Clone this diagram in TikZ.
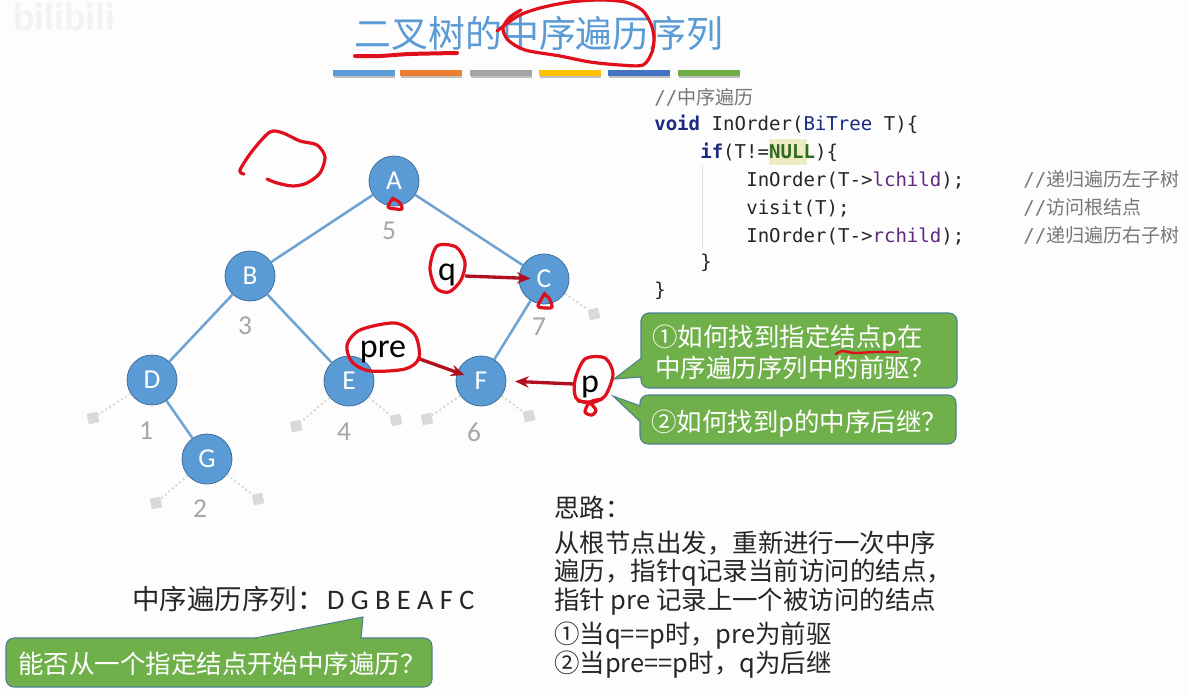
\documentclass[tikz,border=0pt]{standalone}
\usepackage{fontspec}
\setmainfont{Noto Sans CJK SC}
\newfontfamily\cjk{Noto Sans CJK SC}
\newfontfamily\latinfont{Carlito}
\newfontfamily\codefont{DejaVu Sans Mono}
\usetikzlibrary{arrows.meta}
\definecolor{pagecolor}{HTML}{FDFDFD}
\definecolor{markcolor}{HTML}{F3F3F3}
\definecolor{nodecolor}{HTML}{5B9BD5}
\definecolor{noderim}{HTML}{3F6F9C}
\definecolor{edgecolor}{HTML}{6FA3D2}
\definecolor{inkcolor}{HTML}{DF0F1C}
\definecolor{arrowcolor}{HTML}{B01020}
\definecolor{bubblecolor}{HTML}{70B04A}
\definecolor{bubblerim}{HTML}{4F7F8F}
\definecolor{nullcolor}{HTML}{D9D9D9}
\definecolor{numcolor}{HTML}{A6A6A6}
\definecolor{keycolor}{HTML}{1A2A80}
\definecolor{fieldcolor}{HTML}{5E2A80}
\definecolor{nullkey}{HTML}{2E6B22}
\definecolor{nullmark}{HTML}{EDEBC4}
\definecolor{notecolor}{HTML}{777777}
\tikzset{
  tree node/.style={circle,fill=nodecolor,draw=noderim,line width=.6pt,minimum size=37.5pt,inner sep=0pt,text=white,font=\latinfont\fontsize{20.5}{22}\selectfont},
  tree edge/.style={edgecolor,line width=1.9pt},
  tree null/.style={rectangle,fill=nullcolor,minimum size=8pt,inner sep=0pt,rotate=12},
  null edge/.style={nullcolor,line width=1.5pt,dotted},
  order num/.style={text=numcolor,font=\latinfont\fontsize{20.5}{22}\selectfont},
  code line/.style={anchor=base west,inner sep=0pt,font=\codefont\fontsize{14.3}{16}\selectfont,text=black!85},
  plain line/.style={anchor=base west,inner sep=0pt,font=\fontsize{19.1}{22}\selectfont,text=black!85},
  bubble text/.style={anchor=base west,inner sep=0pt,text=white,font=\fontsize{19.1}{22}\selectfont},
  bubble/.style={fill=bubblecolor,draw=bubblerim,line width=.8pt,rounded corners=6pt},
  bar/.style={minimum width=46pt,minimum height=5pt,inner sep=0pt},
  ink/.style={inkcolor,line width=2.4pt,line cap=round,line join=round},
  ink text/.style={text=black,font=\latinfont\fontsize{25.5}{27}\selectfont},
  ink arrow/.style={arrowcolor,line width=2.5pt,-{Stealth[length=3.6mm,width=3mm]}}
}
\begin{document}
\begin{tikzpicture}[x=.75pt,y=-.75pt]
  \fill[pagecolor] (0,0) rectangle (1188,696);
  \useasboundingbox (0,0) rectangle (1188,696);
  \node[text=markcolor,font=\latinfont\bfseries\fontsize{30}{32}\selectfont] (logo) at (64,17) {bilibili};
  % title
  \node[text=nodecolor,font=\fontsize{27.7}{30}\selectfont] (title) at (539,33) {二叉树的中序遍历序列};
  \foreach \name/\x/\col in {bara/364/5B9BD5,barb/431/ED7D31,barc/501/A5A5A5,bard/570/FFC000,bare/639/4472C4,barf/709/70AD47}{
    \definecolor{barcolor}{HTML}{\col}
    \fill[black!25] (\x-30,72) rectangle (\x+31,78);
    \node[bar,fill=barcolor] (\name) at (\x,73) {};
  }
  % tree
  \node[tree node] (A) at (394,181) {A};
  \node[tree node] (B) at (250,276) {B};
  \node[tree node] (C) at (544,279) {C};
  \node[tree node] (D) at (152,380) {D};
  \node[tree node] (E) at (349,381) {E};
  \node[tree node] (F) at (481,381) {F};
  \node[tree node] (G) at (207,459) {G};
  \draw[tree edge] (A)--(B);
  \draw[tree edge] (A)--(C);
  \draw[tree edge] (B)--(D);
  \draw[tree edge] (B)--(E);
  \draw[tree edge] (C)--(F);
  \draw[tree edge] (D)--(G);
  \foreach \name/\x/\y/\from in {nc/594/314/C,nd/93/418/D,nel/296/426/E,ner/396/420/E,nfl/427/419/F,nfr/529/416/F,ngl/156/503/G,ngr/258/499/G}{
    \node[tree null] (\name) at (\x,\y) {};
    \draw[null edge] (\from)--(\name);
  }
  \foreach \name/\x/\y/\n in {oa/389/231/5,ob/245/326/3,oc/539/327/7,od/146/431/1,oe/344/432/4,of/474/432/6,og/200/509/2}{
    \node[order num] (\name) at (\x,\y) {\n};
  }
  % code
  \node[code line,text=notecolor] (c0) at (654,104) {//{\cjk 中序遍历}};
  \node[code line] (c1) at (654,130) {\textcolor{keycolor}{\bfseries void} InOrder(\textcolor{keycolor}{BiTree} T)\{};
  \fill[nullmark] (769,139) rectangle (807,165);
  \node[code line] (c2) at (700,158) {\textcolor{keycolor}{\bfseries if}(T!=\textcolor{nullkey}{\bfseries NULL})\{};
  \node[code line] (c3) at (746,186) {InOrder(T->\textcolor{fieldcolor}{lchild});};
  \node[code line] (c4) at (746,214) {visit(T);};
  \node[code line] (c5) at (746,242) {InOrder(T->\textcolor{fieldcolor}{rchild});};
  \node[code line] (c6) at (700,268) {\}};
  \node[code line] (c7) at (654,296) {\}};
  \node[code line,text=notecolor] (n3) at (1023,186) {//{\cjk 递归遍历左子树}};
  \node[code line,text=notecolor] (n4) at (1023,214) {//{\cjk 访问根结点}};
  \node[code line,text=notecolor] (n5) at (1023,242) {//{\cjk 递归遍历右子树}};
  \draw[black!12,line width=.6pt] (702,165)--(702,248);
  % callouts
  \draw[bubble] (641,313) rectangle (957,388);
  \draw[bubble,fill=bubblecolor,sharp corners] (641.5,358)--(614,379)--(641.5,377);
  \fill[bubblecolor] (640,359.5) rectangle (644,376);
  \node[bubble text] (q1a) at (652,346) {①如何找到指定结点p在};
  \node[bubble text] (q1b) at (655,377) {中序遍历序列中的前驱？};
  \draw[bubble] (640,395) rectangle (956,444);
  \draw[bubble,fill=bubblecolor,sharp corners] (640.5,406)--(613,396)--(640.5,422);
  \fill[bubblecolor] (639,408) rectangle (643,421);
  \node[bubble text] (q2) at (651,431) {②如何找到p的中序后继？};
  % thinking
  \node[plain line] (s0) at (554,517) {思路：};
  \node[plain line] (s1) at (554,552) {从根节点出发，重新进行一次中序};
  \node[plain line] (s2) at (554,580) {遍历，指针q记录当前访问的结点，};
  \node[plain line] (s3) at (554,609) {指针 pre 记录上一个被访问的结点};
  \node[plain line] (s4) at (554,643) {①当q==p时，pre为前驱};
  \node[plain line] (s5) at (554,672) {②当pre==p时，q为后继};
  % sequence
  \node[plain line,font=\fontsize{20.6}{24}\selectfont] (seq) at (132,609) {中序遍历序列：\hspace{2pt}{\latinfont\fontsize{21.2}{24}\selectfont D G B E A F C}};
  \draw[bubble] (6,638) rectangle (432,687);
  \draw[bubble,fill=bubblecolor,sharp corners] (255,638)--(363,617)--(361,638);
  \fill[bubblecolor] (258,636.5) rectangle (360,640);
  \node[bubble text] (ask) at (18,673) {能否从一个指定结点开始中序遍历？};
  % hand marks
  \node[ink text] (q) at (447,275) {q};
  \node[ink text] (pre) at (383,352) {pre};
  \node[ink text] (p) at (590,387) {p};
  \coordinate (qs) at (465,276);
  \coordinate (ps) at (417,358);
  \coordinate (pps) at (574,384);
  \draw[ink arrow,shorten >=-9pt] (qs)--(C);
  \draw[ink arrow,shorten >=-6pt] (ps)--(F);
  \draw[ink arrow,shorten >=6.5pt] (pps)--(F.east);
  \draw[ink] plot[smooth] coordinates {(497,31)(518,16)(540,8)(570,2)(600,0)(625,2)(642,10)(651,24)(654,38)(652,52)(643,65)(620,65)(590,62)(560,56)(525,50)(508,40)(503,28)(510,17)(521,10)};
  \draw[ink,line width=3pt] plot[smooth] coordinates {(355,56)(380,56)(410,54)(457,53)};
  \draw[ink] plot[smooth] coordinates {(244,174)(240,170)(253,150)(270,132)(283,133)(300,141)(317,145)(325,157)(320,173)(307,183)(293,186)(277,183)(267,179)};
  \draw[ink] plot[smooth] coordinates {(393,198)(388,207)(396,209)(402,209)(400,203)(394,199)};
  \draw[ink] plot[smooth] coordinates {(545,293)(538,306)(546,308)(552,307)(549,298)(545,295)};
  \draw[ink] plot[smooth cycle] coordinates {(437,246)(430,268)(436,288)(449,292)(461,280)(465,262)(456,247)};
  \draw[ink] plot[smooth cycle] coordinates {(347,345)(360,330)(395,323)(415,335)(419,358)(405,369)(370,371)(352,362)};
  \draw[ink] plot[smooth cycle] coordinates {(585,359)(575,380)(576,398)(590,403)(605,396)(613,374)(605,358)};
  \draw[ink] plot[smooth] coordinates {(578,401)(590,402)(602,399)(590,402)(585,412)(592,415)(596,410)(590,403)};
  \draw[ink,line width=1.8pt] plot[smooth] coordinates {(836,354)(842,351)(855,353)(875,352)(898,352)};
\end{tikzpicture}
\end{document}
